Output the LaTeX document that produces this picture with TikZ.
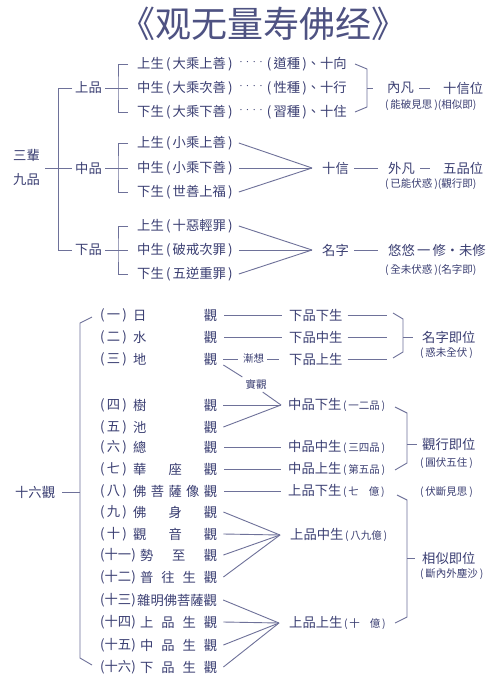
\documentclass[tikz,border=0pt]{standalone}
\usepackage{fontspec}
\newfontfamily\cjk{Noto Sans CJK TC}
\newfontfamily\cjksc{Noto Sans CJK SC}
\definecolor{txt}{HTML}{3A3E72}
\definecolor{lnc}{HTML}{6E7199}
\definecolor{ttl}{HTML}{4E5282}
\newcommand\mainf{\cjk\fontsize{13.3}{14}\selectfont}
\newcommand\smallf{\cjk\fontsize{10.5}{11}\selectfont}
\newcommand\onedot{\hbox to 0pt{\hss{\normalfont\fontsize{13}{14}\selectfont ·}\hss}}
\newcommand\mydots{\hbox to 20pt{\onedot\hfil\onedot\hfil\onedot\hfil\onedot}}
\tikzset{
 t/.style={inner sep=0pt, anchor=west, text=txt, font=\mainf},
 te/.style={inner sep=0pt, anchor=east, text=txt, font=\mainf},
 s/.style={inner sep=0pt, anchor=west, text=txt, font=\smallf},
 ln/.style={draw=lnc, line width=0.9pt},
}
\begin{document}
\begin{tikzpicture}[x=1pt,y=-1pt]
\useasboundingbox (0,0) rectangle (497,690);
\fill[white] (0,0) rectangle (497,690);
\node[inner sep=0pt, text=ttl, font=\cjksc\fontsize{36}{36}\selectfont] (title) at (263,24) {《观无量寿佛经》};

% ---------- top part ----------
\node[t] (sanbei) at (13,155) {三輩};
\node[t] (jiupin) at (13,180) {九品};
\coordinate (root) at (45,168);
\node[t] (up) at (75,88) {上品};
\node[t] (mp) at (75,168) {中品};
\node[t] (lp) at (75,250) {下品};
\draw[ln] (root) -- ([xshift=-3pt]mp.west);
\draw[ln] ([xshift=-3pt]up.west) -- ++(-14,0) |- ([xshift=-3pt]lp.west);

\node[t] (u1) at (137,64) {上生\,(\,大乘上善\,)};
\node[t] (u2) at (137,88) {中生\,(\,大乘次善\,)};
\node[t] (u3) at (137,112) {下生\,(\,大乘下善\,)};
\foreach \n/\yy/\zz in {1/64/(\,道種\,)、十向, 2/88/(\,性種\,)、十行, 3/112/(\,習種\,)、十住} {
  \node[inner sep=0pt, text=txt] (ud\n) at (251,\yy) {\mydots};
  \node[te] (ur\n) at (347,\yy) {\zz};
}
\node[t] (m1) at (137,143) {上生\,(\,小乘上善\,)};
\node[t] (m2) at (137,168) {中生\,(\,小乘下善\,)};
\node[t] (m3) at (137,192) {下生\,(\,世善上福\,)};
\node[t] (l1) at (137,226) {上生\,(\,十惡輕罪\,)};
\node[t] (l2) at (137,250) {中生\,(\,破戒次罪\,)};
\node[t] (l3) at (137,274) {下生\,(\,五逆重罪\,)};

\foreach \p/\a/\b/\c in {up/u1/u2/u3, mp/m1/m2/m3, lp/l1/l2/l3} {
  \draw[ln] ([xshift=3pt]\p.east) -- ([xshift=-9pt]\b.west);
  \draw[ln] ([xshift=-9pt]\a.west) -| ([xshift=-19pt]\b.west) |- ([xshift=-9pt]\c.west);
}

% upper brace
\node[t] (neifan) at (387,88) {內凡};
\node[t] (shixinwei) at (443,88) {十信位};
\draw[ln] ([xshift=5pt]neifan.east) -- ([xshift=-13pt]shixinwei.west);
\node[s] (n1) at (385,105) {(\,能破見思\,)(相似即)};
\draw[ln] ([xshift=8pt]ur1.east) -- ++(12,5) -- ([xshift=20pt,yshift=5pt]ur3.east) -- ([xshift=8pt]ur3.east);
\draw[ln] (ur2.east -| 367,0) -- ([xshift=-14pt]neifan.west);

% middle convergence
\node[t] (shixin) at (322,168) {十信};
\coordinate (cm) at ([xshift=-10pt]shixin.west);
\foreach \n in {m1,m2,m3} \draw[ln] ([xshift=6pt]\n.east) -- (cm);
\node[t] (waifan) at (388,168) {外凡};
\node[t] (wupin) at (443,168) {五品位};
\draw[ln] ([xshift=5pt]shixin.east) -- ([xshift=-10pt]waifan.west);
\draw[ln] ([xshift=5pt]waifan.east) -- ([xshift=-13pt]wupin.west);
\node[s] (n2) at (385,184) {(\,已能伏惑\,)(觀行即)};

% lower convergence
\node[t] (mingzi) at (322,250) {名字};
\coordinate (cl) at ([xshift=-10pt]mingzi.west);
\foreach \n in {l1,l2,l3} \draw[ln] ([xshift=6pt]\n.east) -- (cl);
\node[t] (youyou) at (388,250) {悠悠\,一\,修・未修};
\draw[ln] ([xshift=5pt]mingzi.east) -- ([xshift=-10pt]youyou.west);
\node[s] (n3) at (385,270) {(\,全未伏惑\,)(名字即)};

% ---------- bottom part ----------
\node[t] (sl) at (15,492) {十六觀};
\coordinate (spx) at (80,0);
\draw[ln] ([xshift=7pt]sl.east) -- (sl.east -| spx);

\foreach \i/\num/\yy in {1/一/315, 2/二/337, 3/三/359, 4/四/405, 5/五/427, 6/六/447, 7/七/469, 8/八/491, 9/九/512, 10/十/534}
  \node[t] (N\i) at (100,\yy) {(\,\num\,)};
\foreach \i/\num/\yy in {11/十一/555, 12/十二/577, 13/十三/600, 14/十四/622, 15/十五/645, 16/十六/667}
  \node[t] (N\i) at (100,\yy) {(\num)};

\node[t] (L1) at (133,315) {\makebox[84pt][s]{日\hfill 觀}};
\node[t] (L2) at (133,337) {\makebox[84pt][s]{水\hfill 觀}};
\node[t] (L3) at (133,359) {\makebox[84pt][s]{地\hfill 觀}};
\node[t] (L4) at (133,405) {\makebox[84pt][s]{樹\hfill 觀}};
\node[t] (L5) at (133,427) {\makebox[84pt][s]{池\hfill 觀}};
\node[t] (L6) at (133,447) {\makebox[84pt][s]{總\hfill 觀}};
\node[t] (L7) at (133,469) {\makebox[84pt][s]{華\hfill 座\hfill 觀}};
\node[t] (L8) at (133,491) {\makebox[84pt][s]{佛\hfill 菩\hfill 薩\hfill 像\hfill 觀}};
\node[t] (L9) at (133,512) {\makebox[84pt][s]{佛\hfill 身\hfill 觀}};
\node[t] (L10) at (133,534) {\makebox[84pt][s]{觀\hfill 音\hfill 觀}};
\node[t] (L11) at (140,555) {\makebox[77pt][s]{勢\hfill 至\hfill 觀}};
\node[t] (L12) at (140,577) {\makebox[77pt][s]{普\hfill 往\hfill 生\hfill 觀}};
\node[t] (L13) at (137,600) {雜明佛菩薩觀};
\node[t] (L14) at (140,622) {\makebox[77pt][s]{上\hfill 品\hfill 生\hfill 觀}};
\node[t] (L15) at (140,645) {\makebox[77pt][s]{中\hfill 品\hfill 生\hfill 觀}};
\node[t] (L16) at (140,667) {\makebox[77pt][s]{下\hfill 品\hfill 生\hfill 觀}};

\draw[ln] ([xshift=-8pt,yshift=-2pt]N1.west) -- ++(-12,6) -- ([xshift=-20pt,yshift=9pt]N16.west) -- ([xshift=-8pt,yshift=2pt]N16.west);

% targets
\node[t] (T1) at (289,315) {下品下生};
\node[t] (T2) at (289,337) {下品中生};
\node[t] (T3) at (289,359) {下品上生};
\node[t] (T4) at (288,405) {中品下生{\smallf\,(\,一二品\,)}};
\node[t] (T6) at (288,447) {中品中生{\smallf\,(\,三四品\,)}};
\node[t] (T7) at (288,469) {中品上生{\smallf\,(\,第五品\,)}};
\node[t] (T8) at (288,491) {上品下生{\smallf\,(\,七\hspace{10pt}億\,)}};
\node[t] (T10) at (290,535) {上品中生{\smallf\,(\,八九億\,)}};
\node[t] (T14) at (289,623) {上品上生{\smallf\,(\,十\hspace{10pt}億\,)}};

\draw[ln] ([xshift=7pt]L1.east) -- ([xshift=-7pt]T1.west);
\draw[ln] ([xshift=7pt]L2.east) -- ([xshift=-7pt]T2.west);
\node[s] (jianxiang) at (243,359) {漸想};
\draw[ln] ([xshift=6pt]L3.east) -- ([xshift=-5pt]jianxiang.west);
\draw[ln] ([xshift=3pt]jianxiang.east) -- ([xshift=-10pt]T3.west);
\node[s, anchor=center] (shiguan) at (256,384) {實觀};
\coordinate (c4) at ([xshift=-7pt]T4.west);
\draw[ln] ([xshift=6pt,yshift=-6pt]L3.east) -- ([xshift=-3pt,yshift=2pt]shiguan.north west);
\draw[ln] ([xshift=-4pt,yshift=-3pt]shiguan.south east) -- (c4);
\draw[ln] ([xshift=6pt]L4.east) -- (c4);
\draw[ln] ([xshift=6pt]L5.east) -- (c4);
\draw[ln] ([xshift=7pt]L6.east) -- ([xshift=-7pt]T6.west);
\draw[ln] ([xshift=7pt]L7.east) -- ([xshift=-7pt]T7.west);
\draw[ln] ([xshift=7pt]L8.east) -- ([xshift=-7pt]T8.west);
\coordinate (c10) at ([xshift=-10pt]T10.west);
\foreach \i in {9,10,11,12} \draw[ln] ([xshift=6pt]L\i.east) -- (c10);
\coordinate (c14) at ([xshift=-10pt]T14.west);
\foreach \i in {13,14,15,16} \draw[ln] ([xshift=6pt]L\i.east) -- (c14);

% brace A
\coordinate (bAx) at (387,0);
\foreach \i in {1,2,3} \draw[ln] ([xshift=5pt]T\i.east) -- (T\i.east -| bAx);
\draw[ln] (393,313) -- (403,319) -- (403,352) -- (393,358);
\node[t] (mzjw) at (422,337) {名字即位};
\node[s] (n4) at (420,353) {(\,惑未全伏\,)};
\draw[ln] (403,337) -- ([xshift=-9pt]mzjw.west);

% brace B
\draw[ln] (395,407) -- (407,413) -- (407,463) -- (395,470);
\node[t] (gxjw) at (422,444) {觀行即位};
\node[s] (n5) at (420,463) {(\,圓伏五住\,)};
\draw[ln] (407,444) -- ([xshift=-5pt]gxjw.west);

% brace C
\node[s] (n6) at (420,492) {(\,伏斷見思\,)};
\draw[ln] (397,495) -- (407,500) -- (407,617) -- (395,623);
\node[t] (xsjw) at (422,558) {相似即位};
\node[s] (n7) at (420,574) {(\,斷內外塵沙\,)};
\draw[ln] (407,558) -- ([xshift=-7pt]xsjw.west);
\end{tikzpicture}
\end{document}
